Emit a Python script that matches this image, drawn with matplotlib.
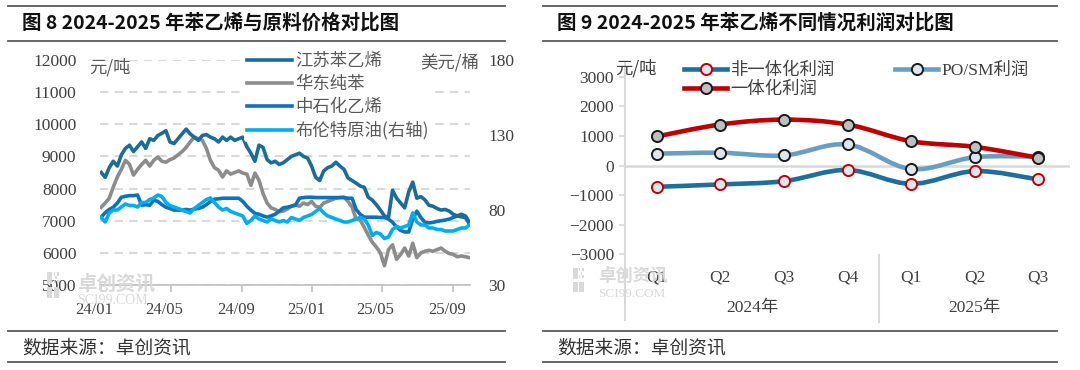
import numpy as np
import pandas as pd
import matplotlib
matplotlib.use('Agg')
import matplotlib.pyplot as plt
import matplotlib.transforms as mtransforms
from matplotlib.path import Path
from matplotlib.patches import PathPatch, Rectangle
from matplotlib.lines import Line2D

plt.rcParams['font.family'] = ['Liberation Serif', 'Noto Sans CJK SC']
CJK = ['Noto Sans CJK SC', 'DejaVu Sans']

# ---------------- data: chart 8 (weekly) ----------------
start_date = '2024-01-02'
js_sm = [8500, 8350, 8650, 8850, 8700, 9050, 9250, 9350, 9150, 9300,
         9450, 9250, 9550, 9500, 9650, 9720, 9800, 9450, 9400, 9550,
         9700, 9850, 9700, 9600, 9500, 9650, 9680, 9600, 9550, 9450,
         9600, 9500, 9600, 9500, 9550, 9600, 9300, 9100, 8850, 9350,
         9280, 8900, 8800, 8850, 8750, 8800, 8900, 9000, 9050, 9100,
         9000, 8950, 8700, 8350, 8250, 8550, 8650, 8700, 8820, 8700,
         8600, 8330, 8250, 8170, 8080, 8040, 7730, 7640, 7500, 7330,
         7150, 7100, 7950, 7700, 7550, 7400, 7900, 8200, 7700, 7750,
         7650, 7480, 7450, 7380, 7330, 7350, 7300, 7200, 7150, 7200,
         7150, 6950]
benzene = [7420, 7550, 7700, 8050, 8360, 8600, 8880, 8750, 8420, 8600,
           8750, 8880, 8700, 8880, 8980, 8850, 8820, 8900, 8950, 9050,
           9150, 9280, 9450, 9600, 9550, 9500, 9250, 8880, 8650, 8570,
           8360, 8550, 8450, 8500, 8550, 8480, 8450, 8100, 8480, 8260,
           7850, 7550, 7400, 7350, 7280, 7300, 7360, 7450, 7500, 7450,
           7550, 7500, 7600, 7450, 7420, 7550, 7600, 7650, 7700, 7720,
           7730, 7600, 7420, 7050, 7020, 6800, 6550, 6330, 6180, 6000,
           5600, 6100, 6250, 5800, 5950, 6150, 5900, 6300, 5850, 6000,
           6050, 6080, 6050, 6100, 6150, 6050, 5980, 5950, 5880, 5900,
           5880, 5850]
ethylene = [7110, 7250, 7350, 7420, 7550, 7730, 7760, 7780, 7780, 7800,
            7480, 7500, 7480, 7640, 7600, 7500, 7420, 7380, 7330, 7330,
            7330, 7350, 7330, 7360, 7380, 7420, 7500, 7600, 7670, 7680,
            7700, 7700, 7700, 7700, 7700, 7600, 7450, 7330, 7230, 7200,
            7150, 7110, 7150, 7200, 7300, 7400, 7420, 7450, 7480, 7700,
            7720, 7730, 7730, 7720, 7720, 7720, 7720, 7720, 7720, 7720,
            7720, 7700, 7700, 7350, 7200, 7110, 7110, 7110, 7110, 7100,
            7100, 7050, 6950, 6800, 6700, 6650, 6650, 7050, 7300, 7100,
            6950, 6930, 6950, 6980, 7000, 7020, 7050, 7100, 7150, 7120,
            7100, 6900]
brent = [75, 72, 78, 80, 80, 82, 84, 83, 83, 82,
         85, 85, 87, 88, 90, 89, 85, 83, 82, 81,
         80, 79, 78, 81, 83, 85, 87, 88, 85, 82,
         80, 81, 79, 78, 77, 76, 71, 73, 76, 74,
         73, 72, 74, 73, 72, 73, 72, 75, 74, 73,
         75, 76, 77, 79, 81, 78, 76, 75, 74, 73,
         72, 72, 73, 74, 75, 74, 70, 63, 65, 64,
         61, 62, 67, 69, 68, 69, 70, 78, 72, 70,
         70, 68, 68, 67, 67, 66, 66, 66, 67, 68,
         68, 70]
names8 = ['江苏苯乙烯', '华东纯苯', '中石化乙烯', '布伦特原油(右轴)']
date_ticks = ['2024-01-01', '2024-05-01', '2024-09-01',
              '2025-01-01', '2025-05-01', '2025-09-01']
date_labels = ['24/01', '24/05', '24/09', '25/01', '25/05', '25/09']

# ---------------- data: chart 9 ----------------
quarters = ['Q1', 'Q2', 'Q3', 'Q4', 'Q1', 'Q2', 'Q3']
years = ['2024年', '2025年']
year_sizes = [4, 3]
non_integrated = [-720, -640, -530, -150, -620, -190, -470]
integrated = [980, 1385, 1550, 1385, 820, 630, 260]
po_sm = [400, 430, 340, 710, -120, 280, 300]
names9 = ['非一体化利润', '一体化利润', 'PO/SM利润']

W, H = 1080, 370
fig = plt.figure(figsize=(10.8, 3.7), dpi=100)


def fx(px):
    return px / W


def fy(py):
    return 1 - py / H


def axes_px(x0, y0, x1, y1):
    return fig.add_axes([fx(x0), fy(y1), fx(x1 - x0), (y1 - y0) / H])


def hline(x0, x1, y, color='#595959', lw=1.3):
    fig.add_artist(Line2D([fx(x0), fx(x1)], [fy(y), fy(y)], color=color, lw=lw))


def logo(x0, y0, s):
    # small grey "block" logo of the watermark
    c = '#d9d9d9'
    fig.add_artist(Rectangle((fx(x0), fy(y0 + s)), fx(s * 0.45), s * 0.45 / H * 2.2,
                             transform=fig.transFigure, color=c, lw=0))
    fig.add_artist(Rectangle((fx(x0), fy(y0 + s * 2.2)), fx(s * 0.45), s * 0.95 / H,
                             transform=fig.transFigure, color=c, lw=0))
    fig.add_artist(Rectangle((fx(x0 + s * 0.55), fy(y0 + s * 2.2)), fx(s * 0.45), s * 0.95 / H,
                             transform=fig.transFigure, color=c, lw=0))
    for i in range(3):
        for j in range(3):
            if (i + j) % 2 == 0:
                fig.add_artist(Rectangle((fx(x0 + s * 0.55 + i * s * 0.15), fy(y0 + s * 0.3 + j * s * 0.3)),
                                         fx(s * 0.13), s * 0.26 / H,
                                         transform=fig.transFigure, color=c, lw=0))


# ---------------- frame lines, titles, source ----------------
for x0, x1 in [(8, 505), (543, 1057)]:
    for y in [6, 41, 331, 362]:
        hline(x0, x1, y)

fig.text(fx(22), fy(23), '图 8 2024-2025 年苯乙烯与原料价格对比图', family=CJK,
         fontweight='bold', size=14, va='center', color='#111111')
fig.text(fx(557), fy(23), '图 9 2024-2025 年苯乙烯不同情况利润对比图', family=CJK,
         fontweight='bold', size=14, va='center', color='#111111')
fig.text(fx(22), fy(348), '数据来源：卓创资讯', family=CJK, size=13.5, va='center', color='#333333')
fig.text(fx(557), fy(348), '数据来源：卓创资讯', family=CJK, size=13.5, va='center', color='#333333')

# ---------------- chart 8 ----------------
dates = pd.date_range(start_date, periods=len(js_sm), freq='7D')
ax = axes_px(100, 60, 470, 285)
# watermark under the plot
logo(47, 272, 12)
fig.text(fx(77), fy(284), '卓创资讯', family=CJK, size=14, fontweight='bold', color='#d9d9d9', va='center')
fig.text(fx(77), fy(300), 'SCI99.COM', size=10, color='#d9d9d9', va='center')
ax.set_facecolor('none')

ax.set_xlim(pd.Timestamp('2023-12-31'), pd.Timestamp('2025-10-01'))
ax.set_ylim(5000, 12000)
ax.set_yticks(range(5000, 12001, 1000))
ax.yaxis.grid(True, linestyle=(0, (4, 3)), color='#d9d9d9', lw=1.5)
ax.set_axisbelow(True)
for s in ['top', 'left', 'right']:
    ax.spines[s].set_visible(False)
ax.spines['bottom'].set_color('#bfbfbf')
ax.spines['bottom'].set_linewidth(1.2)
ax.set_xticks(pd.to_datetime(date_ticks))
ax.set_xticklabels(date_labels)
ax.tick_params(axis='x', direction='out', length=5, color='#bfbfbf', width=1.2,
               labelsize=12, labelcolor='#404040', pad=7)
ax.tick_params(axis='y', length=0, labelsize=12.5, labelcolor='#404040', pad=17)
off = mtransforms.ScaledTranslation(-6 / 100, 0, fig.dpi_scale_trans)
for lab in ax.get_xticklabels():
    lab.set_transform(lab.get_transform() + off)

colors8 = ['#1c6c99', '#8c8c8c', '#0b72bb', '#00aeef']
l1, = ax.plot(dates, js_sm, color=colors8[0], lw=2.6, zorder=3)
l2, = ax.plot(dates, benzene, color=colors8[1], lw=2.6, zorder=2)
l3, = ax.plot(dates, ethylene, color=colors8[2], lw=2.6, zorder=2.5)

ax2 = ax.twinx()
ax2.set_ylim(30, 180)
ax2.set_yticks([30, 80, 130, 180])
for s in ['top', 'left', 'right', 'bottom']:
    ax2.spines[s].set_visible(False)
ax2.tick_params(axis='y', length=0, labelsize=12.5, labelcolor='#404040', pad=13)
l4, = ax2.plot(dates, brent, color=colors8[3], lw=2.6)

leg = ax2.legend([l1, l2, l3, l4], names8, loc='upper left',
                 bbox_to_anchor=(fx(244), fy(49)), bbox_transform=fig.transFigure,
                 prop={'family': CJK, 'size': 12.5}, frameon=True, facecolor='white',
                 edgecolor='none', framealpha=1, handlelength=2.6, handletextpad=0.2,
                 labelspacing=0.3, borderpad=0.15, borderaxespad=0)
for t in leg.get_texts():
    t.set_color('#595959')

fig.text(fx(89), fy(67), '元/吨', family=CJK, size=12.5, color='#595959', va='center')
fig.text(fx(420), fy(62), '美元/桶', family=CJK, size=12.5, color='#595959', va='center')

# ---------------- chart 9 ----------------
logo(573, 268, 11)
fig.text(fx(598), fy(276), '卓创资讯', family=CJK, size=12.5, fontweight='bold', color='#d9d9d9', va='center')
fig.text(fx(598), fy(294), 'SCI99.COM', size=9.5, color='#d9d9d9', va='center')

axr = axes_px(625, 76.7, 1070, 254.3)
axr.set_facecolor('none')
axr.set_xlim(-0.5, len(quarters) - 0.5)
axr.set_ylim(-3000, 3000)
axr.set_yticks(range(-3000, 3001, 1000))
for s in ['top', 'left', 'right', 'bottom']:
    axr.spines[s].set_visible(False)
axr.set_xticks([])
axr.tick_params(axis='y', length=4, color='#d9d9d9', width=1.3, labelsize=12.5,
                labelcolor='#404040', pad=4)
axr.axhline(0, color='#d9d9d9', lw=1.8, zorder=1)
fig.add_artist(Line2D([fx(625), fx(625)], [fy(63), fy(320)], color='#d9d9d9', lw=1.5))

trans = mtransforms.blended_transform_factory(axr.transData, fig.transFigure)
for i, q in enumerate(quarters):
    axr.text(i, fy(277), q, transform=trans, ha='center', va='center', size=12.5, color='#404040')
pos = 0
for yr, n in zip(years, year_sizes):
    axr.text(pos + (n - 1) / 2, fy(308), yr, transform=trans, ha='center', va='center',
             size=12.5, color='#404040', family=['Liberation Serif', 'Noto Sans CJK SC'])
    pos += n
    if pos < len(quarters):
        axr.plot([pos - 0.5, pos - 0.5], [fy(255), fy(322)], transform=trans,
                 color='#d9d9d9', lw=1.5, clip_on=False)


def smooth_path(x, y):
    pts = np.column_stack([x, y]).astype(float)
    verts = [pts[0]]
    codes = [Path.MOVETO]
    n = len(pts)
    for i in range(n - 1):
        p0 = pts[i - 1] if i > 0 else pts[i]
        p1, p2 = pts[i], pts[i + 1]
        p3 = pts[i + 2] if i + 2 < n else pts[i + 1]
        verts += [p1 + (p2 - p0) / 6, p2 - (p3 - p1) / 6, p2]
        codes += [Path.CURVE4] * 3
    return Path(verts, codes)


xq = np.arange(len(quarters))
series9 = [(non_integrated, '#1f6e9c', '#dce6f0', '#c00000', 3),
           (po_sm, '#6a9ec0', '#dce6f0', '#1a1a1a', 4),
           (integrated, '#c00000', '#bfbfbf', '#1a1a1a', 5)]
handles9 = []
for vals, lc, mfc, mec, z in series9:
    axr.add_patch(PathPatch(smooth_path(xq, vals), fill=False, edgecolor=lc, lw=3.3,
                            capstyle='round', zorder=z))
    axr.plot(xq, vals, ls='none', marker='o', ms=8, mfc=mfc, mec=mec, mew=1.4, zorder=z + 0.5)
    handles9.append(Line2D([], [], color=lc, lw=3.3, marker='o', ms=8, mfc=mfc, mec=mec, mew=1.4))

leg9 = axr.legend([handles9[0], handles9[2], handles9[1]], [names9[0], names9[1], names9[2]],
                  ncol=2, loc='upper left', bbox_to_anchor=(fx(684), fy(63)),
                  bbox_transform=fig.transFigure, frameon=False,
                  prop={'family': ['Liberation Serif', 'Noto Sans CJK SC'], 'size': 12.5},
                  handlelength=2.5, handletextpad=0.15, labelspacing=0.15,
                  columnspacing=3.5, borderpad=0, borderaxespad=0)
for t in leg9.get_texts():
    t.set_color('#404040')

fig.text(fx(615), fy(68), '元/吨', family=CJK, size=12.5, color='#404040', va='center')

fig.savefig('out.png', dpi=100)
